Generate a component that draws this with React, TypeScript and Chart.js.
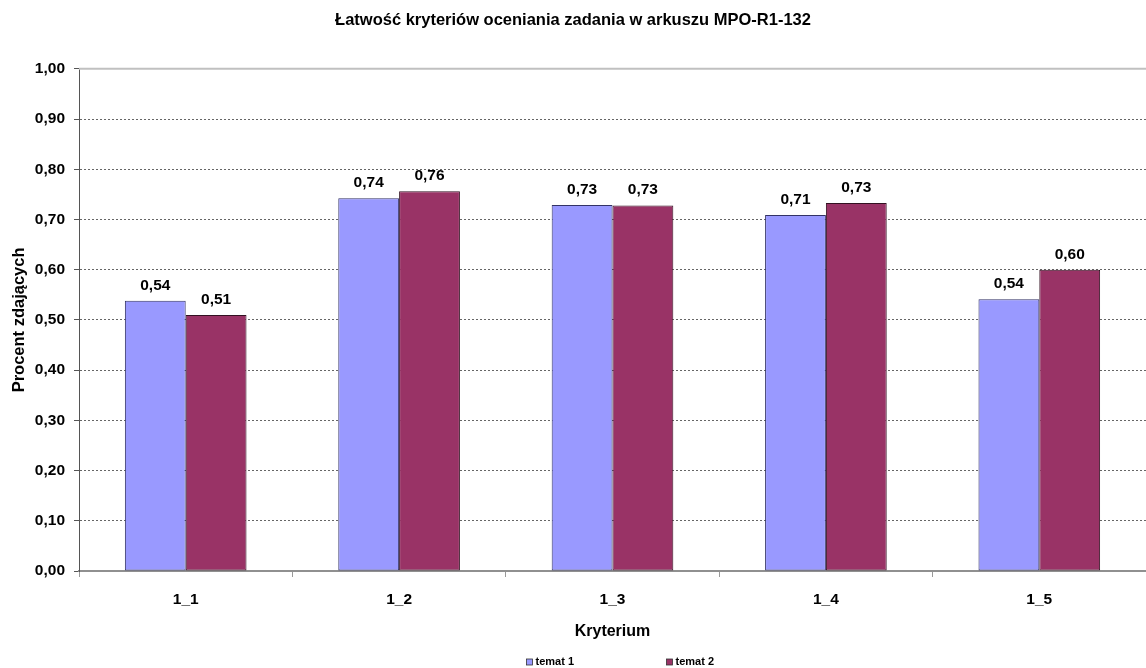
import { useEffect, useRef } from 'react';
import { Chart, registerables } from 'chart.js';

Chart.register(...registerables);

const chartTitle = 'Łatwość kryteriów oceniania zadania w arkuszu MPO-R1-132';
const xAxisTitle = 'Kryterium';
const yAxisTitle = 'Procent zdających';
const categories = ['1_1', '1_2', '1_3', '1_4', '1_5'];
const seriesNames = ['temat 1', 'temat 2'];
const temat1 = [0.538, 0.742, 0.729, 0.709, 0.541];
const temat2 = [0.51, 0.756, 0.728, 0.733, 0.6];
const seriesColors = ['#9999FF', '#993366'];
const seriesBorders = ['#333366', '#331122'];

const FONT = "'Liberation Sans', Arial, sans-serif";

const fmt = (v: number) => v.toFixed(2).replace('.', ',');

const valueLabels = {
  id: 'valueLabels',
  afterDatasetsDraw(chart: any) {
    const ctx = chart.ctx;
    ctx.save();
    ctx.font = `bold 15.5px ${FONT}`;
    ctx.fillStyle = '#000';
    ctx.textAlign = 'center';
    ctx.textBaseline = 'alphabetic';
    chart.data.datasets.forEach((ds: any, di: number) => {
      const meta = chart.getDatasetMeta(di);
      meta.data.forEach((bar: any, i: number) => {
        ctx.fillText(fmt(ds.data[i]), bar.x, bar.y - 11);
      });
    });
    ctx.restore();
  },
};

const topLine = {
  id: 'topLine',
  beforeDatasetsDraw(chart: any) {
    const { ctx, chartArea } = chart;
    ctx.save();
    ctx.strokeStyle = '#c0c0c0';
    ctx.lineWidth = 2;
    ctx.beginPath();
    ctx.moveTo(chartArea.left, chartArea.top);
    ctx.lineTo(chartArea.right, chartArea.top);
    ctx.stroke();
    ctx.restore();
  },
};

const customLegend = {
  id: 'customLegend',
  afterDraw(chart: any) {
    const { ctx, chartArea } = chart;
    const cx = (chartArea.left + chartArea.right) / 2;
    const y = 662;
    const offsets = [-86, 54];
    ctx.save();
    ctx.font = `bold 11px ${FONT}`;
    ctx.textBaseline = 'middle';
    ctx.textAlign = 'left';
    chart.data.datasets.forEach((ds: any, i: number) => {
      const x = cx + offsets[i];
      ctx.fillStyle = ds.backgroundColor;
      ctx.fillRect(x, y - 3, 6, 6);
      ctx.strokeStyle = '#333';
      ctx.lineWidth = 0.8;
      ctx.strokeRect(x, y - 3, 6, 6);
      ctx.fillStyle = '#000';
      ctx.fillText(ds.label, x + 9, y);
    });
    ctx.restore();
  },
};

export default function App() {
  const ref = useRef<HTMLCanvasElement | null>(null);

  useEffect(() => {
    document.body.style.margin = '0';
    if (!ref.current) return;
    const chart = new Chart(ref.current, {
      type: 'bar',
      data: {
        labels: categories,
        datasets: [
          {
            label: seriesNames[0],
            data: temat1,
            backgroundColor: seriesColors[0],
            borderColor: seriesBorders[0],
            borderWidth: 1,
            borderSkipped: false,
            categoryPercentage: 0.57,
            barPercentage: 1,
          },
          {
            label: seriesNames[1],
            data: temat2,
            backgroundColor: seriesColors[1],
            borderColor: seriesBorders[1],
            borderWidth: 1,
            borderSkipped: false,
            categoryPercentage: 0.57,
            barPercentage: 1,
          },
        ],
      },
      options: {
        responsive: false,
        animation: false,
        layout: { padding: { left: 0, right: 0, top: 0, bottom: 22 } },
        plugins: {
          legend: { display: false },
          tooltip: { enabled: false },
          title: {
            display: true,
            text: chartTitle,
            color: '#000',
            font: { family: FONT, size: 16.5, weight: 'bold' },
            padding: { top: 11, bottom: 38 },
          },
        },
        scales: {
          x: {
            afterFit: (scale: any) => {
              scale.height = 75;
            },
            grid: {
              drawOnChartArea: false,
              drawTicks: true,
              tickLength: 6,
              tickColor: '#999',
              offset: true,
            },
            border: { display: true, color: '#909090', width: 2 },
            ticks: {
              color: '#000',
              padding: 13,
              font: { family: FONT, size: 15.5, weight: 'bold' },
            },
            title: {
              display: true,
              text: xAxisTitle,
              color: '#000',
              font: { family: FONT, size: 16, weight: 'bold' },
              padding: { top: 0, bottom: 5 },
            },
          },
          y: {
            min: 0,
            max: 1,
            afterFit: (scale: any) => {
              scale.width = 79;
            },
            grid: {
              color: (c: any) =>
                c.tick && (c.tick.value >= 0.999 || c.tick.value <= 0.001) ? 'rgba(0,0,0,0)' : '#666',
              tickColor: '#555',
              tickLength: 5,
              lineWidth: 1,
            },
            border: { display: true, color: '#555', width: 1, dash: [2, 2] },
            ticks: {
              stepSize: 0.1,
              color: '#000',
              padding: 9,
              font: { family: FONT, size: 15.5, weight: 'bold' },
              callback: (v: any) => fmt(Number(v)),
            },
            title: {
              display: true,
              text: yAxisTitle,
              color: '#000',
              font: { family: FONT, size: 16.5, weight: 'bold' },
              padding: { top: 10, bottom: 0 },
            },
          },
        },
      },
      plugins: [topLine, valueLabels, customLegend],
    });
    return () => chart.destroy();
  }, []);

  return (
    <div style={{ width: 1146, height: 668 }}>
      <canvas ref={ref} width={1146} height={668} />
    </div>
  );
}
